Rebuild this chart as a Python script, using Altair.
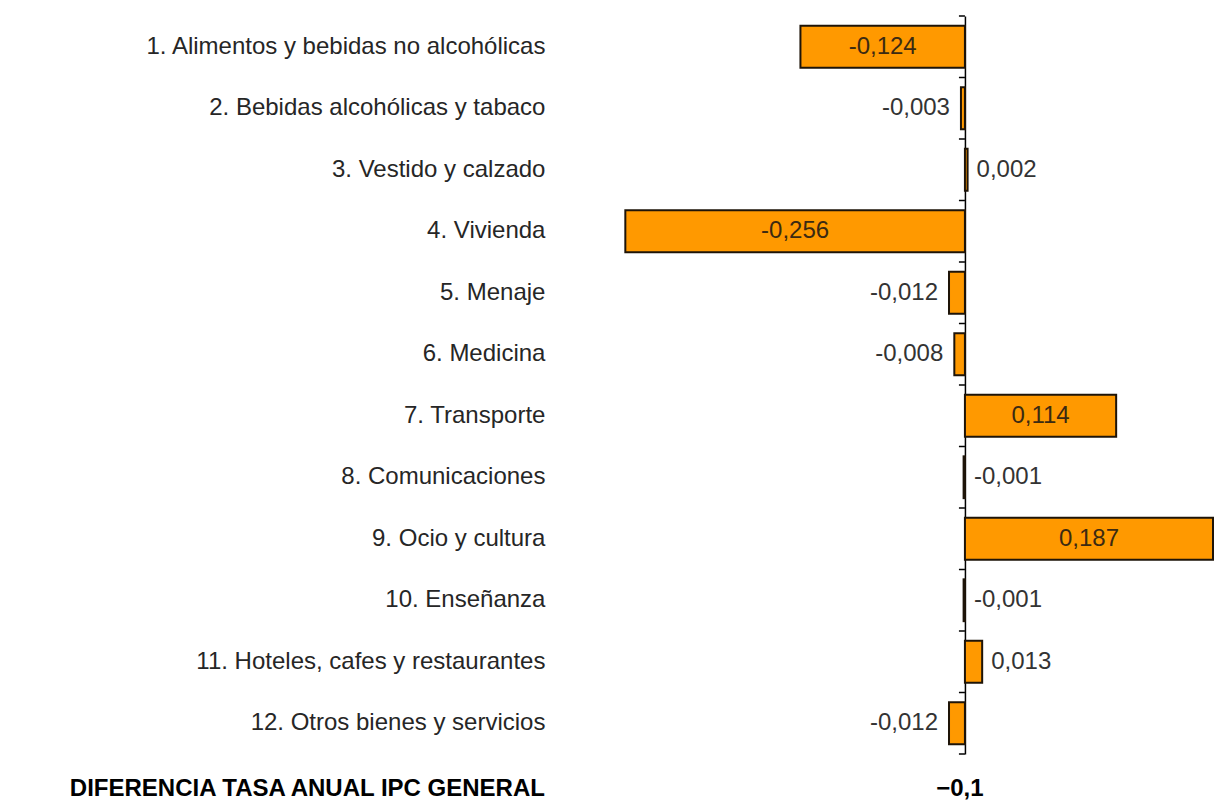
import altair as alt
import pandas as pd

categories = [
    "1. Alimentos y bebidas no alcohólicas",
    "2. Bebidas alcohólicas y tabaco",
    "3. Vestido y calzado",
    "4. Vivienda",
    "5. Menaje",
    "6. Medicina",
    "7. Transporte",
    "8. Comunicaciones",
    "9. Ocio y cultura",
    "10. Enseñanza",
    "11. Hoteles, cafes y restaurantes",
    "12. Otros bienes y servicios",
]
values = [-0.124, -0.003, 0.002, -0.256, -0.012, -0.008, 0.114, -0.001, 0.187, -0.001, 0.013, -0.012]
total_label = "DIFERENCIA TASA ANUAL IPC GENERAL"
total_value_text = "\u22120,1"

labels = [f"{v:.3f}".replace(".", ",") for v in values]
df = pd.DataFrame({"cat": categories, "v": values, "lab": labels})
df_total = pd.DataFrame({"lab": [total_label], "val": [total_value_text]})

W, H = 589, 738
PAD = {"left": 616, "top": 8, "right": 1, "bottom": 50}
XDOM = [-0.257, 0.187]
zero_px = W * (0 - XDOM[0]) / (XDOM[1] - XDOM[0])
TICK = 6
LABPAD = 414
FONT = "Liberation Sans"
P_IN, P_OUT = 0.32, 0.16
step = H / (len(categories) - P_IN + 2 * P_OUT)

xs = alt.Scale(domain=XDOM, nice=False, zero=False)
ys = alt.Scale(paddingInner=P_IN, paddingOuter=P_OUT)
yaxis = alt.Axis(
    orient="left",
    offset=-zero_px,
    title=None,
    domain=True,
    domainColor="black",
    domainWidth=1.5,
    ticks=False,
    labelFont=FONT,
    labelFontSize=24,
    labelColor="#262626",
    labelPadding=LABPAD + TICK,
    labelLimit=700,
)
y = alt.Y("cat:N", sort=categories, scale=ys, axis=yaxis)

base = alt.Chart(df)

bars = base.mark_bar(fill="#FF9900", stroke="#1e1408", strokeWidth=2).encode(
    x=alt.X("v:Q", scale=xs, axis=None),
    x2=alt.datum(0),
    y=y,
)

# small tick marks at the category boundaries on the zero axis
ticks_top = base.mark_rule(color="black", strokeWidth=1.5, yOffset=-step / 2).encode(
    x=alt.value(zero_px - TICK),
    x2=alt.value(zero_px),
    y=y,
)
ticks_bottom = (
    base.transform_filter(alt.FieldEqualPredicate(field="cat", equal=categories[-1]))
    .mark_rule(color="black", strokeWidth=1.5, yOffset=step / 2)
    .encode(x=alt.value(zero_px - TICK), x2=alt.value(zero_px), y=y)
)

inside = (
    base.transform_filter("abs(datum.v) >= 0.1")
    .transform_calculate(a="datum.v / 2")
    .mark_text(font=FONT, fontSize=24, color="#3b2a12", align="center", baseline="middle")
    .encode(x=alt.X("a:Q", scale=xs, axis=None), y=y, text="lab:N")
)

left = (
    base.transform_filter("abs(datum.v) < 0.1 && datum.v < -0.002")
    .transform_calculate(a="datum.v")
    .mark_text(font=FONT, fontSize=24, color="#333333", align="right", baseline="middle", dx=-11)
    .encode(x=alt.X("a:Q", scale=xs, axis=None), y=y, text="lab:N")
)

right = (
    base.transform_filter("abs(datum.v) < 0.1 && datum.v >= -0.002")
    .transform_calculate(a="max(datum.v, 0)")
    .mark_text(font=FONT, fontSize=24, color="#333333", align="left", baseline="middle", dx=9)
    .encode(x=alt.X("a:Q", scale=xs, axis=None), y=y, text="lab:N")
)

tot_base = alt.Chart(df_total)
tot_label = tot_base.mark_text(
    font=FONT, fontSize=24, fontWeight="bold", color="black", align="right", baseline="alphabetic"
).encode(x=alt.value(zero_px - TICK - LABPAD), y=alt.value(H + 42), text="lab:N")
tot_value = tot_base.mark_text(
    font=FONT, fontSize=24, fontWeight="bold", color="black", align="center", baseline="alphabetic"
).encode(x=alt.value(zero_px - 5), y=alt.value(H + 42), text="val:N")

chart = (
    alt.layer(bars, ticks_top, ticks_bottom, inside, left, right, tot_label, tot_value)
    .properties(width=W, height=H, autosize=alt.AutoSizeParams(type="none"), padding=PAD)
    .configure(background="white")
    .configure_view(strokeWidth=0, stroke="transparent")
)

chart.save("out.html", embed_options={"renderer": "svg", "actions": False})
